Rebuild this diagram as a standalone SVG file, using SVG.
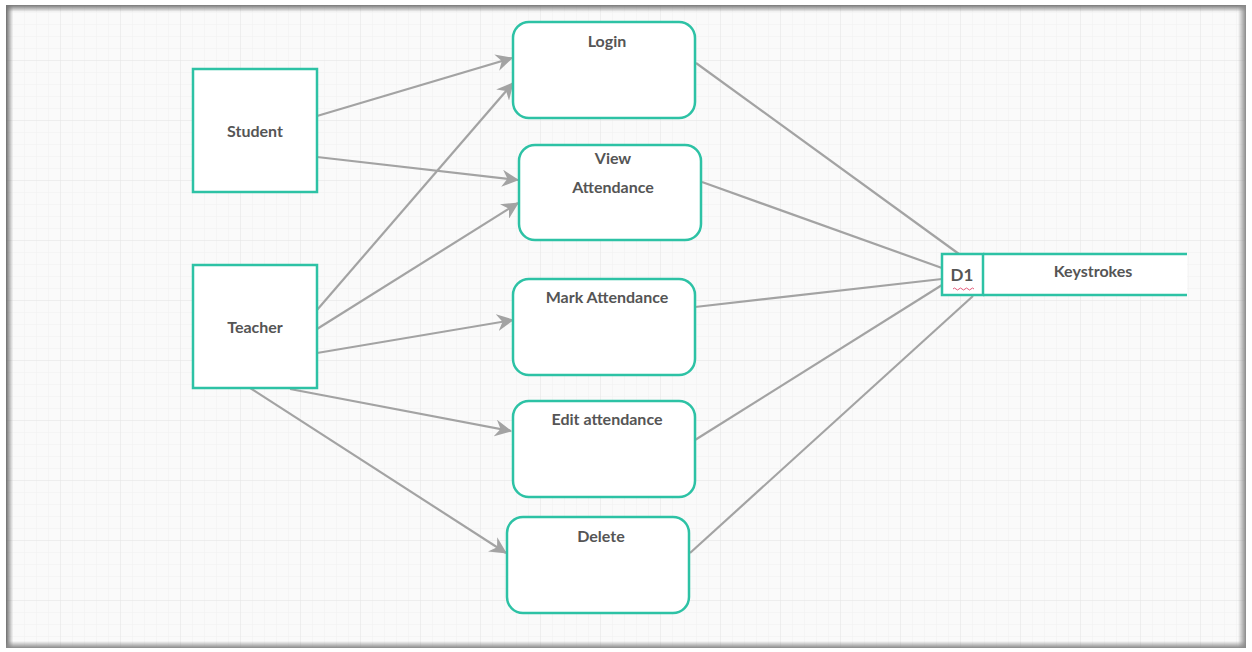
<svg xmlns="http://www.w3.org/2000/svg" width="1252" height="652" viewBox="0 0 1252 652">
<defs>
<pattern id="minor" width="12" height="12" patternUnits="userSpaceOnUse">
<path d="M12 0 L0 0 0 12" fill="none" stroke="#efefef" stroke-width="1"/>
</pattern>
<pattern id="major" width="60" height="60" patternUnits="userSpaceOnUse">
<rect width="60" height="60" fill="url(#minor)"/>
<path d="M60 0 L0 0 0 60" fill="none" stroke="#e6e6e6" stroke-width="1"/>
</pattern>
<linearGradient id="shL" x1="0" y1="0" x2="1" y2="0"><stop offset="0" stop-color="#6e6e6e"/><stop offset="1" stop-color="#6e6e6e" stop-opacity="0"/></linearGradient>
<linearGradient id="shR" x1="1" y1="0" x2="0" y2="0"><stop offset="0" stop-color="#8a8a8a"/><stop offset="1" stop-color="#8a8a8a" stop-opacity="0"/></linearGradient>
<linearGradient id="shT" x1="0" y1="0" x2="0" y2="1"><stop offset="0" stop-color="#777"/><stop offset="1" stop-color="#777" stop-opacity="0"/></linearGradient>
<linearGradient id="shB" x1="0" y1="1" x2="0" y2="0"><stop offset="0" stop-color="#8a8a8a"/><stop offset="1" stop-color="#8a8a8a" stop-opacity="0"/></linearGradient>
<marker id="arr" viewBox="0 0 16 16" refX="15" refY="8" markerWidth="17" markerHeight="17" markerUnits="userSpaceOnUse" orient="auto">
<path d="M0,0 L16,8 L0,16 L5,8 Z" fill="#a3a3a3"/>
</marker>
<style>
.box{fill:#ffffff;stroke:#2dc2a5;stroke-width:2.5}
.ln{fill:none;stroke:#a3a3a3;stroke-width:2.2}
.t{font-family:Lato,"Liberation Sans",sans-serif;font-weight:bold;font-size:16px;fill:#555555;text-anchor:middle}
</style>
</defs>
<rect width="1252" height="652" fill="#ffffff"/>
<rect x="6" y="5" width="1240" height="643" fill="#fafafa"/>
<rect x="6" y="5" width="1240" height="643" fill="url(#major)"/>
<rect x="6" y="5" width="7" height="643" fill="url(#shL)"/>
<rect x="6" y="5" width="1240" height="7" fill="url(#shT)"/>
<rect x="1238" y="5" width="8" height="643" fill="url(#shR)"/>
<rect x="6" y="641" width="1240" height="7" fill="url(#shB)"/>
<rect x="1246" y="0" width="6" height="652" fill="#ffffff"/>

<g id="connectors">
<line class="ln" x1="317" y1="116" x2="512" y2="58" marker-end="url(#arr)"/>
<line class="ln" x1="317" y1="157" x2="518" y2="180" marker-end="url(#arr)"/>
<line class="ln" x1="317" y1="310" x2="513" y2="83" marker-end="url(#arr)"/>
<line class="ln" x1="317" y1="329" x2="518" y2="203" marker-end="url(#arr)"/>
<line class="ln" x1="317" y1="353" x2="513" y2="320" marker-end="url(#arr)"/>
<line class="ln" x1="290" y1="389" x2="511" y2="431" marker-end="url(#arr)"/>
<line class="ln" x1="247" y1="386" x2="506" y2="553" marker-end="url(#arr)"/>
<line class="ln" x1="696" y1="63" x2="959" y2="254"/>
<line class="ln" x1="702" y1="182" x2="942" y2="268"/>
<line class="ln" x1="695" y1="307" x2="942" y2="279"/>
<line class="ln" x1="695" y1="440" x2="942" y2="285"/>
<line class="ln" x1="690" y1="553" x2="973" y2="296"/>
</g>

<g id="student">
<rect class="box" x="193" y="69" width="124" height="123"/>
<text class="t" x="255" y="137">Student</text>
</g>
<g id="teacher">
<rect class="box" x="193" y="265" width="124" height="123"/>
<text class="t" x="255" y="333">Teacher</text>
</g>
<g id="login">
<rect class="box" x="513" y="22" width="182" height="96" rx="16"/>
<text class="t" x="607" y="47">Login</text>
</g>
<g id="view-attendance">
<rect class="box" x="519" y="145" width="182" height="95" rx="16"/>
<text class="t" x="613" y="164">View</text>
<text class="t" x="613" y="193">Attendance</text>
</g>
<g id="mark-attendance">
<rect class="box" x="513" y="279" width="182" height="96" rx="16"/>
<text class="t" x="607" y="303">Mark Attendance</text>
</g>
<g id="edit-attendance">
<rect class="box" x="513" y="401" width="182" height="96" rx="16"/>
<text class="t" x="607" y="425">Edit attendance</text>
</g>
<g id="delete">
<rect class="box" x="507" y="517" width="182" height="96" rx="16"/>
<text class="t" x="601" y="542">Delete</text>
</g>
<g id="d1-keystrokes">
<rect x="942" y="254" width="245" height="41" fill="#ffffff"/>
<rect class="box" x="942" y="254" width="41" height="41"/>
<line x1="983" y1="254" x2="1187" y2="254" stroke="#2dc2a5" stroke-width="2.5"/>
<line x1="983" y1="295" x2="1187" y2="295" stroke="#2dc2a5" stroke-width="2.5"/>
<text class="t" x="962" y="281" style="font-size:17px">D1</text>
<path d="M953,289 q1.5,-2 3,0 t3,0 t3,0 t3,0 t3,0 t3,0 t3,0" fill="none" stroke="#e35a7a" stroke-width="1"/>
<text class="t" x="1093" y="277">Keystrokes</text>
</g>
</svg>
